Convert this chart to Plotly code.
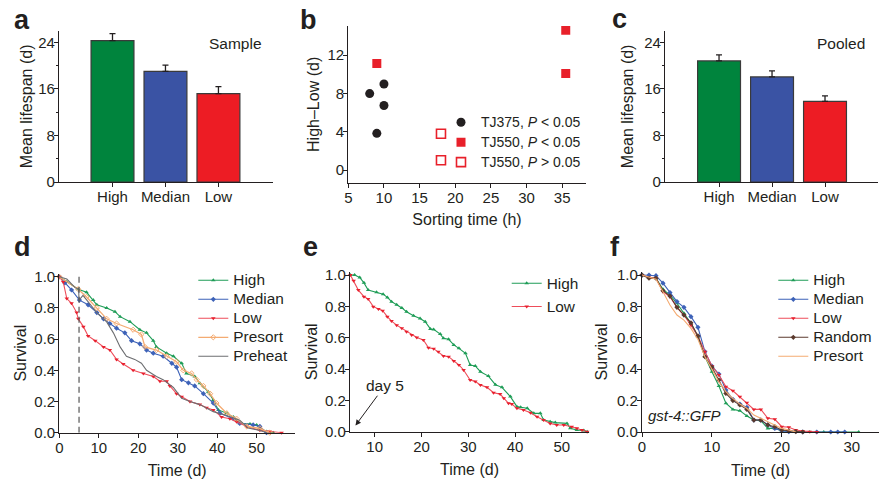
import plotly.graph_objects as go

FONT = "Liberation Sans, Arial, Helvetica, sans-serif"
INK = "#231f20"
W, H = 880, 479

# ---------------- data ----------------
bar_groups = ["High", "Median", "Low"]
bar_colors = ["#00843d", "#3a53a4", "#ed1c24"]
sample_mean = [24.3, 19.0, 15.2]
sample_err = [1.2, 1.1, 1.2]
pooled_mean = [20.8, 18.05, 13.85]
pooled_err = [1.05, 1.05, 0.95]

tj375_time = [8, 10, 10, 9]
tj375_diff = [8.0, 9.0, 6.75, 3.85]
tj550_sig_time = [9, 35.5, 35.5]
tj550_sig_diff = [11.15, 14.6, 10.1]
tj550_ns_time = [18, 18]
tj550_ns_diff = [3.8, 1.05]

d_high_t = [0, 1.9, 4.8, 6.9, 8.6, 9.5, 12.0, 14.1, 15.4, 17.9, 20.4, 22.1, 23.8, 24.6, 27.2, 28.9,
            31.0, 32.2, 34.3, 35.6, 37.7, 39.0, 40.3, 42.4, 44.1, 45.7, 48.3, 50.0, 50.8, 52.5, 54.2]
d_high_s = [1.0, 0.966, 0.92, 0.90, 0.85, 0.82, 0.80, 0.776, 0.744, 0.712, 0.66, 0.64, 0.59, 0.55, 0.51, 0.49,
            0.445, 0.38, 0.36, 0.317, 0.263, 0.21, 0.146, 0.125, 0.10, 0.06, 0.056, 0.05, 0.028, 0.007, 0.0]
d_med_t = [0, 1.4, 3.1, 5.1, 7.3, 9.5, 11.2, 12.8, 14.5, 16.6, 18.3, 20.4, 22.1, 23.8, 26.3, 28.5,
           29.7, 31.0, 32.7, 34.3, 36.5, 39.0, 40.7, 44.1, 45.7, 49.1, 50.8, 52.5]
d_med_s = [1.0, 0.96, 0.915, 0.85, 0.82, 0.77, 0.73, 0.70, 0.67, 0.64, 0.59, 0.57, 0.53, 0.51, 0.49, 0.445,
           0.42, 0.34, 0.32, 0.30, 0.25, 0.19, 0.125, 0.09, 0.06, 0.05, 0.04, 0.0]
d_low_t = [0, 1.0, 1.9, 3.1, 4.4, 4.8, 6.1, 7.3, 9.1, 11.2, 12.8, 14.5, 16.2, 18.7, 21.3, 23.8,
           25.5, 27.2, 28.0, 29.7, 31.0, 33.1, 35.6, 37.3, 39.0, 41.1, 43.2, 44.9, 47.5, 50.8, 53.3, 56.3]
d_low_s = [1.0, 0.966, 0.86, 0.83, 0.77, 0.73, 0.68, 0.62, 0.59, 0.55, 0.53, 0.47, 0.44, 0.40, 0.38, 0.36,
           0.33, 0.33, 0.30, 0.25, 0.23, 0.20, 0.18, 0.16, 0.146, 0.10, 0.09, 0.07, 0.04, 0.015, 0.007, 0.0]
d_pre_t = [0, 4.8, 6.9, 9.5, 12.0, 14.5, 18.7, 20.8, 21.7, 24.6, 27.2, 29.7, 31.4, 33.5, 34.8, 36.5,
           38.2, 39.8, 42.4, 44.9, 47.5, 50.8, 53.3]
d_pre_s = [1.0, 0.92, 0.87, 0.80, 0.73, 0.70, 0.66, 0.63, 0.55, 0.53, 0.49, 0.455, 0.40, 0.38, 0.34, 0.30,
           0.25, 0.19, 0.125, 0.09, 0.04, 0.028, 0.0]
d_heat_t = [0, 1.9, 4.0, 4.9, 5.0, 6.0, 9.5, 12.0, 13.7, 15.4, 17.0, 19.1, 20.8, 22.1, 24.6, 26.3,
            28.9, 31.0, 33.1, 35.6, 39.0, 42.4, 45.7, 47.8, 50.8, 52.5]
d_heat_s = [1.0, 0.985, 0.93, 0.92, 0.85, 0.88, 0.77, 0.71, 0.64, 0.55, 0.49, 0.47, 0.445, 0.40, 0.36, 0.34,
            0.29, 0.22, 0.20, 0.18, 0.135, 0.11, 0.08, 0.03, 0.015, 0.0]
d_cutoff_day = 5

e_high_t = [4.8, 5.7, 6.8, 7.7, 8.6, 10.4, 11.8, 12.7, 13.6, 14.7, 15.8, 16.8, 18.3, 19.7, 20.8, 21.9,
            22.6, 24.0, 24.7, 25.8, 26.9, 28.0, 29.4, 30.4, 31.5, 32.6, 34.3, 35.8, 37.2, 39.0, 40.4, 41.2,
            42.6, 44.0, 45.4, 46.1, 47.5, 48.6, 51.1, 51.8, 53.2, 54.7, 55.4]
e_high_s = [1.0, 1.0, 0.985, 0.95, 0.904, 0.89, 0.878, 0.857, 0.83, 0.81, 0.79, 0.766, 0.74, 0.723, 0.702, 0.656,
            0.653, 0.623, 0.596, 0.59, 0.554, 0.532, 0.50, 0.426, 0.42, 0.383, 0.355, 0.30, 0.283, 0.224, 0.16, 0.156,
            0.15, 0.117, 0.117, 0.075, 0.064, 0.058, 0.053, 0.022, 0.011, 0.007, 0.0]
e_low_t = [4.8, 5.5, 6.5, 7.7, 8.6, 9.7, 10.8, 11.7, 12.7, 13.6, 14.7, 15.8, 16.8, 17.9, 19.0, 20.4,
           21.5, 22.6, 23.6, 24.7, 25.8, 26.9, 28.0, 29.0, 30.4, 31.5, 32.6, 34.0, 35.4, 36.8, 37.6, 38.6,
           39.3, 40.4, 41.8, 43.3, 44.7, 46.1, 47.5, 48.9, 50.4, 52.1, 53.2, 54.3, 55.4]
e_low_s = [1.0, 0.963, 0.904, 0.862, 0.847, 0.798, 0.783, 0.772, 0.734, 0.706, 0.68, 0.66, 0.638, 0.617, 0.602, 0.585,
           0.536, 0.53, 0.51, 0.483, 0.479, 0.451, 0.426, 0.394, 0.33, 0.32, 0.298, 0.283, 0.249, 0.240, 0.213, 0.181,
           0.177, 0.149, 0.138, 0.121, 0.096, 0.075, 0.053, 0.043, 0.043, 0.032, 0.022, 0.011, 0.0]

f_high_t = [0, 1, 2, 3, 4, 5, 6, 7, 8, 9, 10, 11, 12, 13, 14, 15, 16, 17, 18, 19, 20, 21, 22, 24, 26, 28, 31]
f_high_s = [1.0, 0.985, 0.98, 0.909, 0.873, 0.82, 0.756, 0.692, 0.607, 0.48, 0.384, 0.293, 0.183, 0.144, 0.136,
            0.102, 0.076, 0.072, 0.023, 0.023, 0.008, 0.002, 0.0, 0.0, 0.0, 0.0, 0.0]
f_med_t = [0, 1, 2, 3, 4, 5, 6, 7, 8, 9, 10, 11, 12, 13, 14, 15, 16, 17, 18, 19, 20, 21, 23, 25, 27, 28, 29]
f_med_s = [1.0, 1.0, 0.996, 0.948, 0.888, 0.831, 0.794, 0.735, 0.667, 0.512, 0.42, 0.369, 0.267, 0.208, 0.178,
           0.157, 0.076, 0.076, 0.045, 0.023, 0.008, 0.002, 0.0, 0.0, 0.0, 0.0, 0.0]
f_low_t = [0, 1, 2, 3, 4, 5, 6, 7, 8, 9, 10, 11, 12, 13, 14, 15, 16, 17, 18, 19, 20, 21, 22, 23, 24, 25]
f_low_s = [1.0, 0.985, 0.98, 0.894, 0.862, 0.794, 0.745, 0.682, 0.612, 0.512, 0.42, 0.363, 0.289, 0.263, 0.225,
           0.187, 0.144, 0.144, 0.087, 0.081, 0.034, 0.03, 0.013, 0.006, 0.002, 0.0]
f_rand_t = [0, 1, 2, 3, 4, 5, 6, 7, 8, 9, 10, 11, 12, 13, 14, 15, 16, 17, 18, 19, 20, 21, 22, 23]
f_rand_s = [1.0, 0.98, 0.98, 0.90, 0.866, 0.794, 0.745, 0.696, 0.612, 0.48, 0.412, 0.331, 0.246, 0.20, 0.172,
            0.144, 0.076, 0.076, 0.045, 0.034, 0.013, 0.008, 0.002, 0.0]
f_pre_t = [0, 1, 2, 3, 4, 5, 6, 7, 8, 9, 10, 11, 12, 13, 14, 15, 16, 17, 18, 19, 20, 21, 22]
f_pre_s = [1.0, 0.985, 0.973, 0.894, 0.809, 0.745, 0.713, 0.66, 0.59, 0.48, 0.395, 0.32, 0.257, 0.214, 0.178,
           0.151, 0.108, 0.087, 0.066, 0.045, 0.023, 0.013, 0.0]

bar_ticks = [0, 8, 16, 24]
bar_minor = [4, 12, 20]
diff_ticks = [0, 4, 8, 12]
surv_ticks = [0, 0.2, 0.4, 0.6, 0.8, 1.0]

# ---------------- styling ----------------
C_GREEN = "#1f9d57"
C_BLUE = "#3d62b8"
C_RED = "#ee4d5a"
C_REDM = "#e8202e"
C_ORANGE = "#f4ab72"
C_GRAY = "#6d6e71"
C_BROWN = "#5b3a2e"


def xd(p0, p1):
    return [p0 / W, p1 / W]


def yd(top, bottom):
    return [1 - bottom / H, 1 - top / H]


def axis(domain, rng, anchor, title=None, standoff=None, lab=-3, **kw):
    d = dict(domain=domain, range=rng, anchor=anchor, showline=True, linecolor=INK, linewidth=1.2,
             ticks="outside", ticklen=4, tickwidth=1.2, tickcolor=INK, showgrid=False, zeroline=False,
             tickfont=dict(family=FONT, size=15, color=INK), fixedrange=True, automargin=False,
             ticklabelstandoff=lab)
    if title:
        d["title"] = dict(text=title, font=dict(family=FONT, size=16, color=INK), standoff=standoff)
    d.update(kw)
    return d


def lname(txt, size):
    return f'<span style="font-size:{size}px">{txt}</span>'


fig = go.Figure()

# a / c bars
for mean, err, xa, ya in [(sample_mean, sample_err, "x", "y"), (pooled_mean, pooled_err, "x3", "y3")]:
    fig.add_trace(go.Bar(x=bar_groups, y=mean, width=0.81, marker=dict(color=bar_colors,
                         line=dict(color="#3a3a3a", width=1.2)),
                         error_y=dict(type="data", array=err, arrayminus=[0] * len(err), symmetric=False,
                                      color=INK, thickness=1.3, width=3),
                         xaxis=xa, yaxis=ya, showlegend=False))

# b scatter
fig.add_trace(go.Scatter(x=tj375_time, y=tj375_diff, mode="markers", xaxis="x2", yaxis="y2",
                         marker=dict(symbol="circle", size=9, color=INK),
                         name=lname("TJ375, <i>P</i> &lt; 0.05", 14), legend="legend"))
fig.add_trace(go.Scatter(x=tj550_sig_time, y=tj550_sig_diff, mode="markers", xaxis="x2", yaxis="y2",
                         marker=dict(symbol="square", size=9, color="#e8202a"),
                         name=lname("TJ550, <i>P</i> &lt; 0.05", 14), legend="legend"))
fig.add_trace(go.Scatter(x=tj550_ns_time, y=tj550_ns_diff, mode="markers", xaxis="x2", yaxis="y2",
                         marker=dict(symbol="square-open", size=9, color="#e8202a", line=dict(width=1.6)),
                         name=lname("TJ550, <i>P</i> &gt; 0.05", 14), legend="legend"))


def surv(t, s, name, color, mcolor, symbol, xa, ya, leg, size, lsize=15.4, mode="lines+markers"):
    fig.add_trace(go.Scatter(x=t, y=s, mode=mode, xaxis=xa, yaxis=ya, legend=leg,
                             line=dict(color=color, width=1.1),
                             marker=dict(symbol=symbol, size=size, color=mcolor, line=dict(width=0)),
                             cliponaxis=False, name=lname(name, lsize)))


# d
surv(d_high_t, d_high_s, "High", C_GREEN, C_GREEN, "triangle-up", "x4", "y4", "legend2", 4)
surv(d_med_t, d_med_s, "Median", C_BLUE, C_BLUE, "diamond", "x4", "y4", "legend2", 4)
surv(d_low_t, d_low_s, "Low", C_RED, C_REDM, "triangle-down", "x4", "y4", "legend2", 4)
fig.add_trace(go.Scatter(x=d_pre_t, y=d_pre_s, mode="lines+markers", xaxis="x4", yaxis="y4", legend="legend2",
                         line=dict(color=C_ORANGE, width=1.3),
                         marker=dict(symbol="diamond-open", size=4, color=C_ORANGE),
                         cliponaxis=False, name=lname("Presort", 15.4)))
surv(d_heat_t, d_heat_s, "Preheat", C_GRAY, C_GRAY, "circle", "x4", "y4", "legend2", 4, mode="lines")

# e
surv(e_high_t, e_high_s, "High", C_GREEN, C_GREEN, "triangle-up", "x5", "y5", "legend3", 4)
surv(e_low_t, e_low_s, "Low", C_RED, C_REDM, "triangle-down", "x5", "y5", "legend3", 4)

# f
surv(f_high_t, f_high_s, "High", C_GREEN, C_GREEN, "triangle-up", "x6", "y6", "legend4", 4)
surv(f_med_t, f_med_s, "Median", C_BLUE, C_BLUE, "diamond", "x6", "y6", "legend4", 4)
surv(f_low_t, f_low_s, "Low", C_RED, C_REDM, "triangle-down", "x6", "y6", "legend4", 4)
surv(f_rand_t, f_rand_s, "Random", C_BROWN, C_BROWN, "diamond", "x6", "y6", "legend4", 4)
surv(f_pre_t, f_pre_s, "Presort", C_ORANGE, C_ORANGE, "circle", "x6", "y6", "legend4", 4, mode="lines")

bar_y = dict(tickvals=bar_ticks, minor=dict(tickvals=bar_minor, ticklen=2, ticks="outside",
                                            tickcolor=INK, tickwidth=1))
surv_y = dict(tickvals=surv_ticks, tickformat=".1f")

legend_common = dict(xanchor="left", yanchor="top", bgcolor="rgba(0,0,0,0)", borderwidth=0,
                     itemwidth=30, tracegroupgap=0)

fig.update_layout(
    width=W, height=H, margin=dict(l=0, r=0, t=0, b=0),
    paper_bgcolor="white", plot_bgcolor="white",
    font=dict(family=FONT, color=INK, size=14),
    bargap=0.2,
    xaxis=axis(xd(59, 273), [-1.01, 3.03], "y", type="category"),
    yaxis=axis(yd(30.7, 182), [0, 26], "x", "Mean lifespan (d)", 1.5, lab=-4, **bar_y),
    xaxis2=axis(xd(348.3, 585.7), [5, 38.3], "y2", "Sorting time (h)", 9, tick0=5, dtick=5),
    yaxis2=axis(yd(26, 182.7), [-1.3, 15.05], "x2", "High\u2013Low (d)", 3, lab=-4, tickvals=diff_ticks),
    xaxis3=axis(xd(665, 878), [-1.02, 3.0], "y3", type="category"),
    yaxis3=axis(yd(30.7, 182), [0, 26], "x3", "Mean lifespan (d)", 6, lab=-4, **bar_y),
    xaxis4=axis(xd(59.3, 295), [0, 59.7], "y4", "Time (d)", 10, tick0=0, dtick=10),
    yaxis4=axis(yd(273.6, 432.7), [0, 1.02], "x4", "Survival", 3, lab=-4, **surv_y),
    xaxis5=axis(xd(350, 589), [4.72, 55.8], "y5", "Time (d)", 10, tickvals=[10, 20, 30, 40, 50]),
    yaxis5=axis(yd(271.9, 431.7), [0, 1.02], "x5", "Survival", 3, lab=-4, **surv_y),
    xaxis6=axis(xd(642, 879), [0, 33.9], "y6", "Time (d)", 10, tick0=0, dtick=10),
    yaxis6=axis(yd(271.9, 432), [0, 1.02], "x6", "Survival", 5, lab=-4, **surv_y),
    legend=dict(x=441 / W, y=1 - 107.35 / H, font=dict(family=FONT, size=13, color=INK), **legend_common),
    legend2=dict(x=193.3 / W, y=1 - 265.8 / H, font=dict(family=FONT, size=11, color=INK), **legend_common),
    legend3=dict(x=506.7 / W, y=1 - 266.7 / H, font=dict(family=FONT, size=15.5, color=INK), **legend_common),
    legend4=dict(x=773.3 / W, y=1 - 265.8 / H, font=dict(family=FONT, size=11, color=INK), **legend_common),
)

fig.add_shape(type="line", xref="x4", yref="y4", x0=d_cutoff_day, x1=d_cutoff_day, y0=0, y1=1.0,
              line=dict(color="#555555", width=1.2, dash="6px,4px"))

ann = []
for letter, px, py in [("a", 22, 20), ("b", 308, 20), ("c", 619, 19), ("d", 22, 246.5), ("e", 310, 247),
                       ("f", 615, 246.5)]:
    ann.append(dict(text=f"<b>{letter}</b>", x=px / W, y=1 - py / H, xref="paper", yref="paper",
                    xanchor="center", yanchor="middle", showarrow=False,
                    font=dict(family=FONT, size=27, color=INK)))
ann.append(dict(text="Sample", x=235 / W, y=1 - 43.5 / H, xref="paper", yref="paper", showarrow=False,
                xanchor="center", yanchor="middle", font=dict(family=FONT, size=15.5, color=INK)))
ann.append(dict(text="Pooled", x=841 / W, y=1 - 43.5 / H, xref="paper", yref="paper", showarrow=False,
                xanchor="center", yanchor="middle", font=dict(family=FONT, size=15.5, color=INK)))
ann.append(dict(text="<i>gst-4::GFP</i>", x=684 / W, y=1 - 415 / H, xref="paper", yref="paper",
                showarrow=False, xanchor="center", yanchor="middle",
                font=dict(family=FONT, size=15, color=INK)))
ann.append(dict(text="day 5", x=5.9, y=0.04, xref="x5", yref="y5", ax=29.3, ay=-39.7,
                showarrow=True, arrowhead=2, arrowsize=1.1, arrowwidth=1, arrowcolor=INK, standoff=0,
                font=dict(family=FONT, size=15.5, color=INK)))
fig.update_layout(annotations=ann)

fig.write_html("out.html", config={"displayModeBar": False},
               post_script="document.body.style.margin='0px';document.body.style.overflow='hidden';")
